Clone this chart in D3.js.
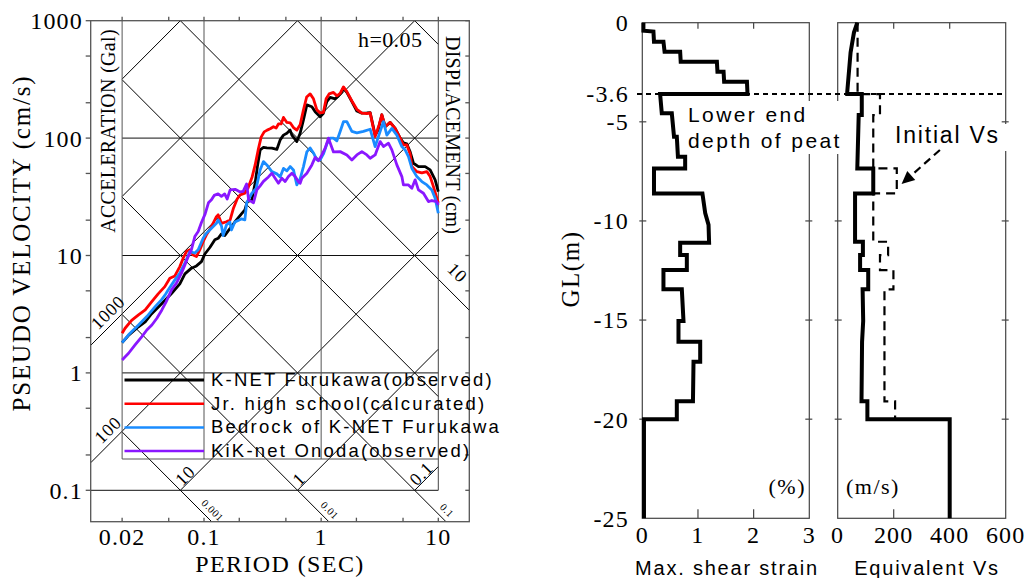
<!DOCTYPE html>
<html>
<head>
<meta charset="utf-8">
<script src="https://cdn.jsdelivr.net/npm/d3@7"></script>
<style>
  html, body { margin: 0; padding: 0; background: #fff; }
  svg { display: block; }
</style>
</head>
<body>
<svg id="fig" width="1032" height="578"></svg>
<script>
// ---------------- Pseudo-velocity response spectra, h = 0.05 ----------------
// [period (s), pseudo velocity (cm/s)]
const knetObserved = [
  [0.02,1.81],[0.0225,2.07],[0.0274,2.46],[0.0315,2.72],[0.0356,3.18],[0.0433,3.87],[0.0528,4.75],
  [0.0622,5.73],[0.0687,6.97],[0.0781,7.80],[0.0862,8.15],[0.0951,8.87],[0.1017,10.3],[0.1122,11.7],
  [0.1238,13.6],[0.132,14.0],[0.1409,15.3],[0.1507,14.8],[0.1608,16.2],[0.1715,17.6],[0.1834,19.3],
  [0.1957,20.9],[0.2088,22.6],[0.2233,24.5],[0.2336,28.6],[0.2561,29.8],[0.2733,41.5],[0.2871,59.1],
  [0.3015,79.3],[0.3217,83.3],[0.3439,82.5],[0.3795,82.0],[0.4185,80.1],[0.4467,96.5],[0.4768,106],
  [0.5097,110],[0.5437,117],[0.5623,106],[0.6203,93.4],[0.6617,110],[0.7064,143],[0.7549,192],
  [0.8329,185],[0.8888,168],[0.9806,152],[1.046,163],[1.118,205],[1.193,222],[1.317,216],[1.405,229],
  [1.481,243],[1.550,268],[1.657,245],[1.829,205],[2.017,170],[2.226,163],[2.455,164],[2.620,165],
  [2.890,106],[3.065,117],[3.297,158],[3.518,125],[3.882,136],[4.281,121],[4.725,100],[5.041,91.0],
  [5.389,89.2],[5.750,76.3],[6.137,61.1],[6.769,57.2],[7.723,57.2],[8.520,53.6],[9.400,44.1],[10,35.0]
];
const jrHighCalculated = [
  [0.02,2.18],[0.0212,2.40],[0.0241,2.80],[0.0276,3.12],[0.0315,3.44],[0.0357,4.03],[0.0406,4.71],
  [0.0463,5.43],[0.0511,6.41],[0.0564,6.70],[0.0622,8.04],[0.0664,9.48],[0.0708,10.8],[0.0757,11.2],
  [0.0808,10.1],[0.0862,9.79],[0.0922,11.2],[0.0983,13.1],[0.1049,15.0],[0.1158,17.6],[0.1277,21.4],
  [0.132,22.2],[0.1409,18.8],[0.1554,19.4],[0.1672,20.1],[0.1784,25.3],[0.1919,30.3],[0.2035,32.8],
  [0.2233,33.9],[0.2381,37.7],[0.2576,46.7],[0.2733,59.1],[0.29,79.3],[0.3075,102],[0.3263,113],
  [0.346,117],[0.3671,120],[0.3915,125],[0.4128,122],[0.4319,132],[0.4556,132],[0.4768,150],
  [0.5097,136],[0.5437,135],[0.5802,123],[0.6203,117],[0.6617,130],[0.7064,174],[0.7522,224],
  [0.8057,238],[0.8598,216],[0.919,174],[0.9806,164],[1.046,166],[1.103,216],[1.170,238],[1.274,245],
  [1.362,229],[1.453,240],[1.550,273],[1.657,249],[1.829,207],[2.017,176],[2.226,163],[2.455,162],
  [2.620,164],[2.890,103],[3.127,130],[3.297,158],[3.518,125],[3.882,136],[4.281,121],[4.725,99.8],
  [5.041,87.5],[5.389,87.5],[5.750,73.3],[5.945,57.2],[6.560,51.8],[7.236,50.5],[7.985,51.8],
  [8.520,47.0],[9.093,38.6],[9.719,30.8],[10,28.1]
];
const bedrockKnet = [
  [0.02,1.81],[0.0227,2.11],[0.0276,2.56],[0.0325,3.02],[0.0383,3.67],[0.0433,4.19],[0.0466,4.62],
  [0.0494,5.09],[0.0564,6.20],[0.0622,7.07],[0.0687,8.60],[0.0757,10.8],[0.0835,10.5],[0.0892,11.2],
  [0.0983,14.0],[0.1049,15.5],[0.1158,17.1],[0.1277,18.8],[0.132,20.1],[0.1409,17.9],[0.1457,14.8],
  [0.1554,18.2],[0.1662,19.3],[0.1715,16.5],[0.1834,19.3],[0.1957,19.9],[0.2088,20.5],[0.2233,20.1],
  [0.2312,28.1],[0.2561,33.9],[0.2787,37.3],[0.3015,53.6],[0.3217,63.1],[0.3439,59.1],[0.3795,51.8],
  [0.4185,49.6],[0.4467,46.7],[0.4768,55.2],[0.5097,52.6],[0.5437,57.2],[0.5802,53.6],[0.6203,39.9],
  [0.6617,44.9],[0.7064,57.2],[0.7549,76.3],[0.8057,82.5],[0.8598,74.8],[0.919,65.2],[0.9806,65.2],
  [1.046,73.3],[1.118,89.2],[1.193,99.8],[1.274,100],[1.362,94.7],[1.453,114],[1.550,138],[1.657,138],
  [1.829,114],[2.017,111],[2.296,114],[2.620,119],[2.890,84.7],[3.189,114],[3.403,138],[3.638,106],
  [4.013,121],[4.428,106],[4.886,84.7],[5.212,79.3],[5.563,69.6],[5.945,55.4],[6.560,47.0],[7.236,42.6],
  [7.985,39.9],[8.808,36.2],[9.400,30.8],[10,22.9]
];
const kikOnoda = [
  [0.02,1.29],[0.0227,1.47],[0.0258,1.73],[0.0295,2.04],[0.0325,2.32],[0.0359,2.56],[0.0396,2.92],
  [0.0437,3.44],[0.0475,4.03],[0.0528,5.09],[0.0582,5.81],[0.0642,7.07],[0.0687,8.32],[0.0733,9.79],
  [0.0781,11.2],[0.0835,14.5],[0.0892,16.0],[0.0951,19.1],[0.1023,22.6],[0.1091,28.1],[0.1158,29.8],
  [0.1221,32.5],[0.132,33.5],[0.1409,31.9],[0.1501,33.5],[0.1576,30.3],[0.1672,36.2],[0.1845,36.6],
  [0.2035,34.8],[0.2159,35.2],[0.2312,40.7],[0.2405,29.8],[0.2643,28.1],[0.2826,36.2],[0.3015,39.2],
  [0.3217,42.8],[0.3549,46.7],[0.3795,50.2],[0.4049,45.5],[0.4319,41.3],[0.4619,45.5],[0.4929,42.6],
  [0.5258,47.0],[0.5623,50.2],[0.5998,47.0],[0.6401,42.6],[0.6617,41.3],[0.6844,45.5],[0.7549,50.2],
  [0.8329,59.1],[0.8888,68.5],[0.9484,64.0],[1.014,71.9],[1.082,82.0],[1.154,99.8],[1.274,76.3],
  [1.453,76.7],[1.657,71.9],[1.829,65.2],[2.017,71.9],[2.226,76.7],[2.455,71.9],[2.620,67.4],
  [2.890,71.9],[3.189,93.4],[3.403,84.7],[3.754,90.5],[4.013,79.3],[4.428,59.1],[4.886,47.0],
  [5.041,39.9],[5.563,39.9],[5.945,37.4],[6.345,44.1],[6.769,36.2],[7.469,33.9],[8.239,28.8],
  [8.808,29.4],[9.719,28.8],[10,27.0]
];
const seriesNames = ["K-NET Furukawa(observed)", "Jr. high school(calcurated)",
                     "Bedrock of K-NET Furukawa", "KiK-net Onoda(observed)"];
const seriesColors = ["#000000", "#ff0000", "#1a8cff", "#8a17ff"];

const periodTicks = [0.02, 0.05, 0.1, 0.2, 0.5, 1, 2, 5, 10];
const periodLabels = [0.02, 0.1, 1, 10];
const velocityTicks = [0.1, 0.2, 0.5, 1, 2, 5, 10, 20, 50, 100, 200, 500, 1000];
const velocityLabels = [1000, 100, 10, 1, 0.1];
const gridPeriods = [0.02, 0.1, 1];
const gridVelocities = [1, 10, 100];
const accelLevels = [0.1, 1, 10, 100, 1000, 10000, 100000];     // Gal
const dispLevels = [0.001, 0.01, 0.1, 1, 10, 100, 1000];         // cm
const accelLevelsToAxis = [100, 1000];
const dispLevelsBelow = [0.001, 0.01, 0.1];
const dispLevelsRight = [10];
const accelLabelsLeft = [1000, 100];
const accelLabelsBottom = [10, 1, 0.1];
const dispLabelsBottom = [0.001, 0.01, 0.1];
const dispLabelsRight = [10];

// ---------------- Soil column: strain and Vs profiles ----------------
// [GL (m), max. shear strain (%)]
const strainProfile = [
  [0,0.02],[-0.4,0.02],[-0.45,0.20],[-0.96,0.21],[-0.96,0.38],[-1.46,0.40],[-1.46,0.68],[-1.97,0.69],
  [-1.97,1.34],[-2.47,1.35],[-2.47,1.46],[-2.98,1.47],[-2.98,1.88],[-3.6,1.89],[-3.6,0.32],[-4.57,0.35],
  [-4.57,0.53],[-5.75,0.57],[-5.75,0.62],[-6.76,0.64],[-6.76,0.77],[-7.35,0.77],[-7.35,0.21],[-8.61,0.21],
  [-8.61,1.08],[-9.6,1.13],[-10.2,1.19],[-11.1,1.20],[-11.1,0.68],[-11.72,0.68],[-11.72,0.80],
  [-12.48,0.80],[-12.48,0.38],[-13.45,0.38],[-13.45,0.71],[-15.05,0.74],[-15.05,0.65],[-16.1,0.65],
  [-16.1,1.04],[-17.1,1.04],[-17.1,0.92],[-19.1,0.91],[-19.1,0.62],[-20,0.62],[-20,0.03],[-25,0.03]
];
// [GL (m), Vs (m/s)]
const equivalentVs = [
  [0,70],[-0.5,58],[-1.5,46],[-3.5,34],[-3.6,34],[-3.6,86],[-4.66,86],[-4.66,75],[-7.35,70],[-7.35,127],
  [-8.61,127],[-8.61,62],[-11.05,62],[-11.05,90],[-11.72,90],[-11.72,80],[-12.48,80],[-12.48,109],
  [-13.45,109],[-13.45,89],[-15.05,91],[-16.1,87],[-19.1,85],[-19.1,106],[-20,106],[-20,400],[-25,400]
];
const initialVs = [
  [0,71],[-3.6,71],[-3.6,151],[-4.66,151],[-4.66,127],[-7.35,127],[-7.35,211],[-8.61,211],[-8.61,127],
  [-11.05,127],[-11.05,180],[-11.72,180],[-11.72,151],[-12.48,151],[-12.48,199],[-13.45,199],
  [-13.45,167],[-19.1,167],[-19.1,205],[-20,205]
];
const glTicks = [0, -5, -10, -15, -20, -25];
const glLabels = [0, -3.6, -5, -10, -15, -20, -25];
const peatBottom = -3.6;
const strainTicks = [0, 1, 2, 3];
const vsTicks = [0, 200, 400, 600];

// ====================================================================
const svg = d3.select("#fig");
svg.append("rect").attr("width", 1032).attr("height", 578).attr("fill", "#fff");

const serif = "Liberation Serif, Times New Roman, serif";
const sans = "Liberation Sans, Arial, sans-serif";
const TWO_PI = 2 * Math.PI;
const x = d3.scaleLog().domain([0.1, 10]).range([204, 438.3]);
const y = d3.scaleLog().domain([0.1, 1000]).range([490.3, 20.7]);
const frame = { left: 90.7, right: 469.3, top: y(1000), bottom: 521.7 };
const legendBottom = 459;
const tMin = 0.02, tMax = 10, vMin = 0.1, vMax = 1000;

const left = svg.append("g");

// tripartite diagonals: constant acceleration (Gal) and constant displacement (cm)
const diag = left.append("g").attr("stroke", "#000").attr("stroke-width", 1).attr("fill", "none");
function segment(p0, p1) {
  diag.append("line")
    .attr("x1", x(p0[0])).attr("y1", y(p0[1]))
    .attr("x2", x(p1[0])).attr("y2", y(p1[1]));
}
accelLevels.forEach(A => {
  const psv = T => A * T / TWO_PI;
  const tl = accelLevelsToAxis.includes(A) ? x.invert(frame.left) : tMin;
  const t0 = Math.max(tl, vMin * TWO_PI / A);
  const t1 = Math.min(tMax, vMax * TWO_PI / A);
  if (t1 > t0) segment([t0, psv(t0)], [t1, psv(t1)]);
});
dispLevels.forEach(D => {
  const psv = T => TWO_PI * D / T;
  let lo = vMin, th = tMax;
  if (dispLevelsBelow.includes(D)) { lo = y.invert(frame.bottom); th = Infinity; }
  if (dispLevelsRight.includes(D)) { th = x.invert(frame.right); }
  const t0 = Math.max(tMin, TWO_PI * D / vMax);
  const t1 = Math.min(th, TWO_PI * D / lo);
  if (t1 > t0) segment([t0, psv(t0)], [t1, psv(t1)]);
});

// rectangular grid
const grid = left.append("g").attr("stroke", "#111").attr("stroke-width", 1).attr("fill", "none");
gridVelocities.forEach(v => grid.append("line")
  .attr("x1", x(tMin)).attr("x2", x(tMax)).attr("y1", y(v)).attr("y2", y(v)));
grid.append("line").attr("x1", frame.left).attr("x2", x(tMax)).attr("y1", y(vMin)).attr("y2", y(vMin));
gridPeriods.forEach(t => grid.append("line")
  .attr("x1", x(t)).attr("x2", x(t)).attr("y1", frame.top).attr("y2", legendBottom).attr("stroke", "#555"));
grid.append("line").attr("x1", x(tMax)).attr("x2", x(tMax)).attr("y1", frame.top).attr("y2", y(vMin)).attr("stroke", "#444");
grid.append("line").attr("x1", x(tMin)).attr("x2", x(tMax)).attr("y1", legendBottom).attr("y2", legendBottom).attr("stroke", "#555");

// outer frame and ticks
const fr = left.append("g").attr("stroke", "#555").attr("stroke-width", 1.3).attr("fill", "none");
fr.append("rect").attr("x", frame.left).attr("y", frame.top)
  .attr("width", frame.right - frame.left).attr("height", frame.bottom - frame.top);
velocityTicks.forEach(v => {
  fr.append("line").attr("x1", frame.left - 5).attr("x2", frame.left).attr("y1", y(v)).attr("y2", y(v));
  fr.append("line").attr("x1", frame.right - 4).attr("x2", frame.right).attr("y1", y(v)).attr("y2", y(v));
});
periodTicks.forEach(t => {
  fr.append("line").attr("x1", x(t)).attr("x2", x(t)).attr("y1", frame.top - 4).attr("y2", frame.top);
  fr.append("line").attr("x1", x(t)).attr("x2", x(t)).attr("y1", frame.bottom - 4).attr("y2", frame.bottom);
});

// tick labels
left.selectAll("text.vl").data(velocityLabels).join("text")
  .attr("x", 83).attr("y", d => y(d)).attr("dy", "0.35em")
  .attr("text-anchor", "end").attr("font-family", serif).attr("font-size", 24)
  .attr("letter-spacing", 1.2).text(d => String(d));
left.selectAll("text.pl").data(periodLabels).join("text")
  .attr("x", d => x(d)).attr("y", 545)
  .attr("text-anchor", "middle").attr("font-family", serif).attr("font-size", 24)
  .attr("letter-spacing", 1.2).text(d => String(d));

// diagonal labels
accelLabelsLeft.forEach(A => {
  const px = x(tMin), py = y(A * tMin / TWO_PI);
  left.append("text").attr("transform", `translate(${px},${py}) rotate(-45)`)
    .attr("x", -9).attr("y", -5).attr("text-anchor", "middle")
    .attr("font-family", serif).attr("font-size", 18).attr("letter-spacing", 0.8).text(String(A));
});
accelLabelsBottom.forEach(A => {
  const px = x(vMin * TWO_PI / A), py = y(vMin);
  left.append("text").attr("transform", `translate(${px},${py}) rotate(-45)`)
    .attr("x", 4).attr("y", -1).attr("text-anchor", "start")
    .attr("font-family", serif).attr("font-size", 18).attr("letter-spacing", 0.8).text(String(A));
});
dispLabelsBottom.forEach(D => {
  const px = x(TWO_PI * D / vMin), py = y(vMin);
  left.append("text").attr("transform", `translate(${px},${py}) rotate(45)`)
    .attr("x", 37).attr("y", -5).attr("text-anchor", "middle")
    .attr("font-family", serif).attr("font-size", 10.5).attr("letter-spacing", 0.5).text(String(D));
});
dispLabelsRight.forEach(D => {
  const px = x(tMax), py = y(TWO_PI * D / tMax);
  left.append("text").attr("transform", `translate(${px},${py}) rotate(45)`)
    .attr("x", 9).attr("y", -12).attr("text-anchor", "middle")
    .attr("font-family", serif).attr("font-size", 18).attr("letter-spacing", 0.8).text(String(D));
});

// axis titles
left.append("text").attr("transform", "translate(30,243) rotate(-90)")
  .attr("text-anchor", "middle").attr("font-family", serif).attr("font-size", 25)
  .attr("letter-spacing", 1.8).text("PSEUDO VELOCITY (cm/s)");
left.append("text").attr("x", 280).attr("y", 572)
  .attr("text-anchor", "middle").attr("font-family", serif).attr("font-size", 24)
  .attr("letter-spacing", 1.4).text("PERIOD (SEC)");
left.append("text").attr("transform", "translate(115,131) rotate(-90)")
  .attr("text-anchor", "middle").attr("font-family", serif).attr("font-size", 20)
  .attr("letter-spacing", 0.3).text("ACCELERATION (Gal)");
left.append("text").attr("transform", "translate(446,135) rotate(90)")
  .attr("text-anchor", "middle").attr("font-family", serif).attr("font-size", 20)
  .attr("letter-spacing", 0.2).text("DISPLACEMENT (cm)");
left.append("text").attr("x", 358).attr("y", 47)
  .attr("font-family", serif).attr("font-size", 22).attr("letter-spacing", 0.4).text("h=0.05");

// spectra
const line = d3.line().x(d => x(d[0])).y(d => y(d[1]));
[knetObserved, jrHighCalculated, bedrockKnet, kikOnoda].forEach((s, i) => {
  left.append("path").datum(s).attr("d", line)
    .attr("fill", "none").attr("stroke", seriesColors[i]).attr("stroke-width", 2.8)
    .attr("stroke-linejoin", "round");
});

// legend
seriesNames.forEach((name, i) => {
  const ly = 380 + i * 23.7;
  left.append("line").attr("x1", 124.5).attr("x2", 204).attr("y1", ly).attr("y2", ly)
    .attr("stroke", seriesColors[i]).attr("stroke-width", i === 0 ? 3 : 2.5);
  left.append("text").attr("x", 211).attr("y", ly + 6)
    .attr("font-family", sans).attr("font-size", 18.5).attr("letter-spacing", 2.2).text(name);
});

// ---------------- right panels ----------------
const gl = d3.scaleLinear().domain([0, -25]).range([22.7, 518.3]);
const xs = d3.scaleLinear().domain([0, 3]).range([642.3, 809.3]);
const xv = d3.scaleLinear().domain([0, 600]).range([837.7, 1005.7]);
const right = svg.append("g");

function panel(sc, ticks) {
  const [x0, x1] = sc.range();
  const g = right.append("g").attr("stroke", "#444").attr("stroke-width", 1.2).attr("fill", "none");
  g.append("rect").attr("x", x0).attr("y", gl(0)).attr("width", x1 - x0).attr("height", gl(-25) - gl(0));
  ticks.slice(1, -1).forEach(t => {
    g.append("line").attr("x1", sc(t)).attr("x2", sc(t)).attr("y1", gl(0)).attr("y2", gl(0) + 6);
    g.append("line").attr("x1", sc(t)).attr("x2", sc(t)).attr("y1", gl(-25) - 9).attr("y2", gl(-25));
  });
  glTicks.slice(1, -1).forEach(d => {
    g.append("line").attr("x1", x0 - 3).attr("x2", x0 + 4).attr("y1", gl(d)).attr("y2", gl(d));
    g.append("line").attr("x1", x1 - 4).attr("x2", x1 + 3).attr("y1", gl(d)).attr("y2", gl(d));
  });
  right.selectAll(null).data(ticks).join("text")
    .attr("x", d => sc(d)).attr("y", 543).attr("text-anchor", "middle")
    .attr("font-family", serif).attr("font-size", 24).attr("letter-spacing", 1.2).text(d => String(d));
}
panel(xs, strainTicks);
panel(xv, vsTicks);

right.selectAll("text.gl").data(glLabels).join("text")
  .attr("x", 629).attr("y", d => gl(d)).attr("dy", "0.35em").attr("text-anchor", "end")
  .attr("font-family", serif).attr("font-size", 24).attr("letter-spacing", 1.2).text(d => String(d));

right.append("text").attr("transform", "translate(579,269) rotate(-90)")
  .attr("text-anchor", "middle").attr("font-family", serif).attr("font-size", 25)
  .attr("letter-spacing", 1.5).text("GL(m)");

// bottom of the peat layer
right.append("line").attr("x1", 637).attr("x2", 1006).attr("y1", gl(peatBottom)).attr("y2", gl(peatBottom))
  .attr("stroke", "#000").attr("stroke-width", 2).attr("stroke-dasharray", "5,4");

// profiles
right.append("path").datum(strainProfile)
  .attr("d", d3.line().x(d => xs(d[1])).y(d => gl(d[0])))
  .attr("fill", "none").attr("stroke", "#000").attr("stroke-width", 4).attr("stroke-linejoin", "miter");
right.append("path").datum(initialVs)
  .attr("d", d3.line().x(d => xv(d[1])).y(d => gl(d[0])))
  .attr("fill", "none").attr("stroke", "#000").attr("stroke-width", 2.2).attr("stroke-dasharray", "9,6");
right.append("path").datum(equivalentVs)
  .attr("d", d3.line().x(d => xv(d[1])).y(d => gl(d[0])))
  .attr("fill", "none").attr("stroke", "#000").attr("stroke-width", 4).attr("stroke-linejoin", "miter");

// units
right.append("text").attr("x", 806).attr("y", 494).attr("text-anchor", "end")
  .attr("font-family", serif).attr("font-size", 22).attr("letter-spacing", 1.5).text("(%)");
right.append("text").attr("x", 846).attr("y", 494)
  .attr("font-family", serif).attr("font-size", 22).attr("letter-spacing", 1.5).text("(m/s)");

// panel captions
right.append("text").attr("x", 727).attr("y", 575).attr("text-anchor", "middle")
  .attr("font-family", sans).attr("font-size", 20).attr("letter-spacing", 1.8).text("Max. shear strain");
right.append("text").attr("x", 927).attr("y", 575).attr("text-anchor", "middle")
  .attr("font-family", sans).attr("font-size", 20).attr("letter-spacing", 1.8).text("Equivalent Vs");

// annotations
right.append("rect").attr("x", 686).attr("y", 101).attr("width", 164).attr("height", 53).attr("fill", "#fff");
right.append("text").attr("x", 688).attr("y", 121.7)
  .attr("font-family", sans).attr("font-size", 21).attr("letter-spacing", 2.4).text("Lower end");
right.append("text").attr("x", 688).attr("y", 148.3)
  .attr("font-family", sans).attr("font-size", 21).attr("letter-spacing", 2.4).text("depth of peat");

right.append("rect").attr("x", 893).attr("y", 124).attr("width", 115).attr("height", 27).attr("fill", "#fff");
right.append("text").attr("x", 895).attr("y", 143.3)
  .attr("font-family", sans).attr("font-size", 23).attr("letter-spacing", 1.8).text("Initial Vs");

const a0 = [xv(365), gl(-6.42)], a1 = [xv(228), gl(-8.14)];
const ang = Math.atan2(a1[1] - a0[1], a1[0] - a0[0]);
const headLen = 13, headHalf = 6;
const base = [a1[0] - headLen * Math.cos(ang), a1[1] - headLen * Math.sin(ang)];
right.append("line").attr("x1", a0[0]).attr("y1", a0[1]).attr("x2", base[0]).attr("y2", base[1])
  .attr("stroke", "#000").attr("stroke-width", 2.2).attr("stroke-dasharray", "8,5");
right.append("polygon")
  .attr("points", [
    a1,
    [base[0] + headHalf * Math.sin(ang), base[1] - headHalf * Math.cos(ang)],
    [base[0] - headHalf * Math.sin(ang), base[1] + headHalf * Math.cos(ang)]
  ].map(p => p.join(",")).join(" "))
  .attr("fill", "#000");
</script>
</body>
</html>
